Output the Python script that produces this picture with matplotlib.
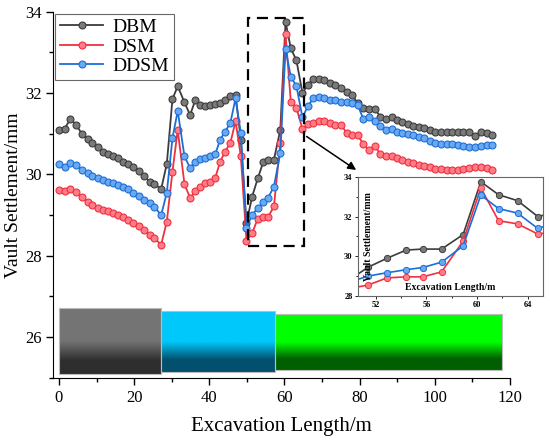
import numpy as np
import matplotlib
matplotlib.use("Agg")
import matplotlib.pyplot as plt
from matplotlib.colors import LinearSegmentedColormap
from matplotlib.patches import Rectangle

plt.rcParams['font.family'] = ['Liberation Serif', 'DejaVu Serif']

# excavation length (m)
x = [0.1, 1.5, 3.0, 4.6, 6.1, 7.6, 8.9, 10.4, 11.7, 13.0, 14.3, 15.7, 17.0, 18.5,
     19.8, 21.2, 22.7, 24.1, 25.4, 27.2, 28.7, 30.2, 31.6, 33.4, 34.9, 36.3, 37.6,
     38.9, 40.2, 41.6, 42.9, 44.2, 45.6, 47.0, 48.4, 49.9, 51.4, 52.9, 54.4, 55.7,
     57.2, 58.9, 60.3, 61.7, 63.2, 64.8, 66.2, 67.7, 69.2, 70.6, 72.2, 73.5, 75.1,
     76.6, 78.1, 79.5, 81.0, 82.5, 84.1, 85.5, 87.0, 88.6, 89.9, 91.2, 92.8, 94.3,
     95.8, 97.2, 98.8, 100.1, 101.7, 103.2, 104.7, 106.1, 107.6, 109.1, 110.7,
     112.3, 113.8, 115.2]

dbm = [31.09, 31.12, 31.36, 31.22, 30.99, 30.87, 30.78, 30.67, 30.56, 30.50, 30.44,
       30.40, 30.31, 30.25, 30.18, 30.09, 29.96, 29.82, 29.76, 29.64, 30.26, 31.85,
       32.17, 31.77, 31.46, 31.83, 31.71, 31.69, 31.71, 31.72, 31.75, 31.83, 31.93,
       31.94, 30.85, 28.80, 29.45, 29.90, 30.31, 30.36, 30.36, 31.09, 33.75, 33.10,
       32.80, 32.00, 32.20, 32.35, 32.35, 32.31, 32.24, 32.20, 32.12, 32.03, 31.94,
       31.75, 31.64, 31.61, 31.61, 31.42, 31.36, 31.40, 31.34, 31.28, 31.23, 31.20,
       31.16, 31.13, 31.09, 31.05, 31.05, 31.03, 31.04, 31.05, 31.05, 31.05, 30.95,
       31.05, 31.01, 30.97]

dsm = [29.62, 29.58, 29.64, 29.56, 29.44, 29.33, 29.25, 29.18, 29.13, 29.09, 29.05,
       28.99, 28.95, 28.88, 28.80, 28.72, 28.62, 28.51, 28.43, 28.27, 28.84, 30.07,
       31.09, 29.76, 29.42, 29.58, 29.68, 29.78, 29.82, 29.92, 30.31, 30.56, 30.77,
       31.31, 30.44, 28.37, 28.55, 28.91, 28.96, 28.96, 29.21, 30.76, 33.44, 31.79,
       31.63, 31.12, 31.23, 31.27, 31.30, 31.30, 31.26, 31.22, 31.22, 31.01, 30.97,
       30.97, 30.74, 30.60, 30.70, 30.50, 30.44, 30.46, 30.40, 30.36, 30.30, 30.29,
       30.23, 30.21, 30.18, 30.14, 30.14, 30.11, 30.11, 30.11, 30.14, 30.15, 30.17,
       30.19, 30.15, 30.11]

ddsm = [30.25, 30.19, 30.28, 30.23, 30.11, 30.03, 29.96, 29.91, 29.86, 29.82, 29.78,
        29.74, 29.69, 29.64, 29.55, 29.47, 29.37, 29.29, 29.20, 29.00, 29.55, 30.89,
        31.56, 30.44, 30.16, 30.31, 30.38, 30.41, 30.44, 30.50, 30.85, 31.05, 31.26,
        31.87, 31.01, 28.69, 29.00, 29.17, 29.32, 29.43, 29.70, 30.52, 33.08, 32.40,
        32.17, 31.40, 31.67, 31.87, 31.91, 31.87, 31.83, 31.83, 31.79, 31.79, 31.75,
        31.71, 31.36, 31.40, 31.31, 31.18, 31.09, 31.12, 31.05, 31.01, 30.99, 30.97,
        30.93, 30.89, 30.82, 30.77, 30.75, 30.75, 30.74, 30.72, 30.70, 30.68, 30.68,
        30.70, 30.71, 30.72]

series = [("DBM", dbm, '#3c3c3c', '#7a7a7a'),
          ("DSM", dsm, '#f0303e', '#ff7c88'),
          ("DDSM", ddsm, '#1c6fd6', '#6aa8f2')]

# strata bars along the bottom
bar_start = [0.0, 27.2, 57.4]
bar_end = [27.2, 57.4, 118.0]
bar_bottom = [25.10, 25.15, 25.19]
bar_top = [26.71, 26.63, 26.56]
bar_colors = [('#747474', '#2e2e2e'), ('#00c8fb', '#00506e'), ('#00ff00', '#006000')]

# zoom box and arrow
box_x = (50.3, 65.3)
box_y = (28.25, 33.84)
arrow_from = (65.3, 30.97)
arrow_to = (79.7, 30.07)

fig = plt.figure(figsize=(5.5, 4.41), dpi=100)
ax = fig.add_axes([0.097, 0.1435, 0.83, 0.83])

for i in range(len(bar_start)):
    top, bot = bar_colors[i]
    cmap = LinearSegmentedColormap.from_list('g%d' % i, [(0, bot), (0.2, bot), (0.5, top), (1, top)])
    grad = np.linspace(1, 0, 100).reshape(-1, 1)
    ax.imshow(grad, cmap=cmap, aspect='auto', zorder=1,
              extent=(bar_start[i], bar_end[i], bar_bottom[i], bar_top[i]))
    ax.add_patch(Rectangle((bar_start[i], bar_bottom[i]), bar_end[i] - bar_start[i],
                           bar_top[i] - bar_bottom[i], fill=False, ec='#bbbbbb', lw=0.8, zorder=2))

for name, y, c, fc in series:
    ax.plot(x, y, '-o', color=c, mfc=fc, mec=c, mew=0.8, ms=5, lw=1.3, label=name, zorder=3)

ax.add_patch(Rectangle((box_x[0], box_y[0]), box_x[1] - box_x[0], box_y[1] - box_y[0],
                       fill=False, ec='black', lw=1.6, ls=(0, (5, 3)), zorder=4))
ax.annotate('', xy=arrow_to, xytext=arrow_from,
            arrowprops=dict(arrowstyle='-|>', color='black', lw=1.1, mutation_scale=12))

ax.set_xlim(-1.5, 120)
ax.set_ylim(25, 34)
ax.set_xticks([0, 20, 40, 60, 80, 100, 120])
ax.set_xticks([10, 30, 50, 70, 90, 110], minor=True)
ax.set_yticks([26, 28, 30, 32, 34])
ax.set_yticks([25, 27, 29, 31, 33], minor=True)
ax.spines['top'].set_visible(False)
ax.spines['right'].set_visible(False)
ax.tick_params(labelsize=12, length=5, width=1)
ax.tick_params(which='minor', length=3, width=1)
ax.set_xlabel("Excavation Length/m", fontsize=15, labelpad=8)
ax.set_ylabel("Vault Settlement/mm", fontsize=14, labelpad=2)

leg = ax.legend(loc='upper left', bbox_to_anchor=(0.0, 1.0), fontsize=14, frameon=True,
                fancybox=False, edgecolor='#444444', handlelength=2.2,
                borderpad=0.25, labelspacing=0.1, handletextpad=0.5, borderaxespad=0.1)
leg.get_frame().set_linewidth(0.8)

# inset
axin = fig.add_axes([0.651, 0.329, 0.336, 0.27])
for name, y, c, fc in series:
    axin.plot(x, y, '-o', color=c, mfc=fc, mec=c, mew=0.7, ms=4.5, lw=1.2)
axin.set_xlim(50.6, 65.2)
axin.set_ylim(28, 34)
axin.set_xticks([52, 56, 60, 64])
axin.set_xticks([54, 58, 62], minor=True)
axin.set_yticks([28, 30, 32, 34])
axin.set_yticks([29, 31, 33], minor=True)
axin.tick_params(labelsize=6, length=2.5, width=0.6, pad=1.5)
axin.tick_params(which='minor', length=1.5, width=0.6)
for lbl in axin.get_xticklabels() + axin.get_yticklabels():
    lbl.set_fontweight('bold')
for s in axin.spines.values():
    s.set_color('#666666')
    s.set_linewidth(0.8)
axin.text(0.5, 0.03, "Excavation Length/m", transform=axin.transAxes, ha='center',
          va='bottom', fontsize=7, fontweight='bold')
axin.text(0.03, 0.5, "Vault Settlement/mm", transform=axin.transAxes, ha='left',
          va='center', rotation=90, fontsize=7, fontweight='bold')

fig.savefig("out.png", dpi=100)
